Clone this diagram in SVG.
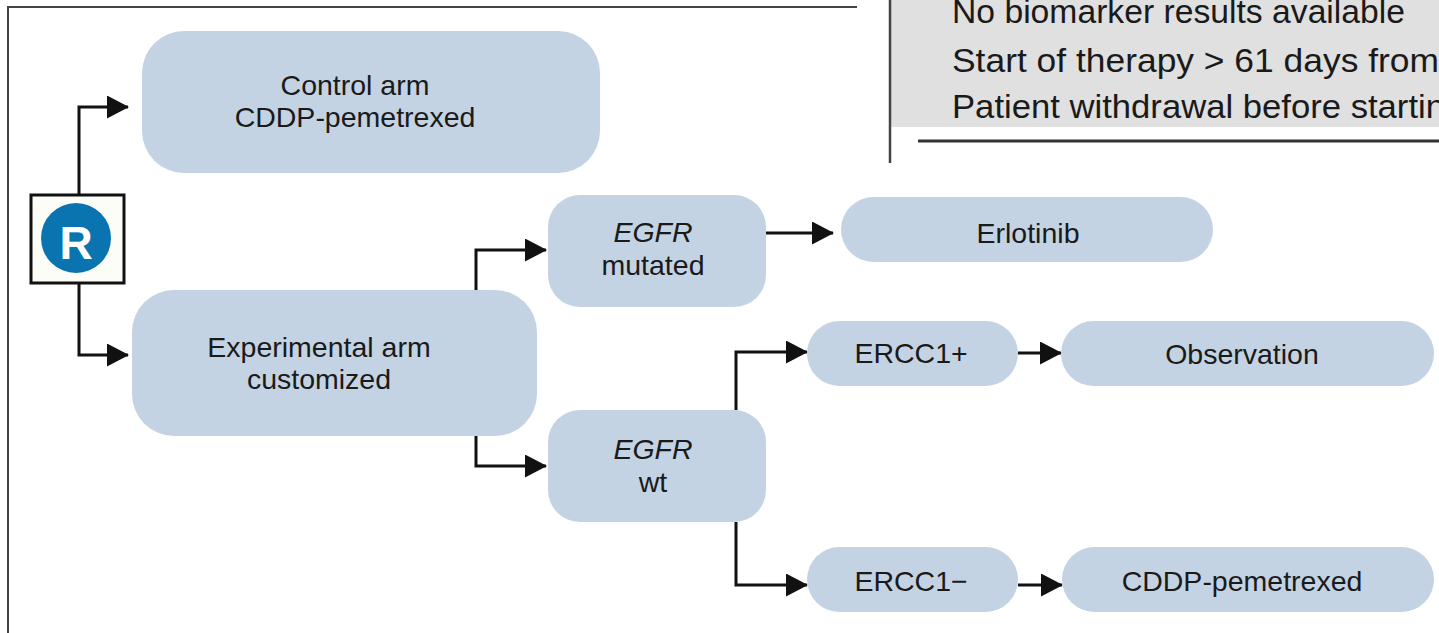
<svg xmlns="http://www.w3.org/2000/svg" width="1439" height="633" viewBox="0 0 1439 633">
<style>
.box{fill:#c4d3e3}
.t{font-family:"Liberation Sans",Arial,sans-serif;font-size:28.5px;fill:#1a1a1a;text-anchor:middle}
.i{font-style:italic}
.c{fill:none;stroke:#111;stroke-width:3}
.frame{fill:none;stroke:#444;stroke-width:2}
.tbl{font-family:"Liberation Sans",Arial,sans-serif;font-size:33px;fill:#1a1a1a}
</style>
<defs>
<marker id="ah" markerUnits="userSpaceOnUse" markerWidth="23" markerHeight="25" refX="21" refY="11.5" orient="auto">
<path d="M0,0 L22,11.5 L0,23 Z" fill="#111"/>
</marker>
</defs>
<rect width="1439" height="633" fill="#fff"/>
<g id="background-page">
<polyline class="frame" points="857,7 8,7 8,633"/>
<rect x="890" y="0" width="549" height="127" fill="#e0e0e0"/>
<line x1="890" y1="0" x2="890" y2="163" stroke="#444" stroke-width="2.5"/>
<line x1="918" y1="141" x2="1439" y2="141" stroke="#333" stroke-width="3"/>
<text class="tbl" x="952" y="23" textLength="453" lengthAdjust="spacingAndGlyphs">No biomarker results available</text>
<text class="tbl" x="952" y="72" textLength="487" lengthAdjust="spacingAndGlyphs">Start of therapy &gt; 61 days from</text>
<text class="tbl" x="952" y="118" textLength="493" lengthAdjust="spacingAndGlyphs">Patient withdrawal before startin</text>
</g>
<g id="connectors">
<polyline class="c" points="79,195 79,107 128,107" marker-end="url(#ah)"/>
<polyline class="c" points="79,283 79,355 128,355" marker-end="url(#ah)"/>
<polyline class="c" points="476,290 476,250 546,250" marker-end="url(#ah)"/>
<polyline class="c" points="476,436 476,466 546,466" marker-end="url(#ah)"/>
<line class="c" x1="766" y1="233" x2="833" y2="233" marker-end="url(#ah)"/>
<polyline class="c" points="736,410 736,352 807,352" marker-end="url(#ah)"/>
<polyline class="c" points="736,522 736,585 807,585" marker-end="url(#ah)"/>
<line class="c" x1="1018" y1="353" x2="1061" y2="353" marker-end="url(#ah)"/>
<line class="c" x1="1018" y1="585" x2="1062" y2="585" marker-end="url(#ah)"/>
</g>
<g id="node-R">
<rect x="31" y="195" width="93" height="88" fill="#fdfdf8" stroke="#111" stroke-width="3"/>
<circle cx="76" cy="238" r="35" fill="#0a74b0"/>
<text x="76" y="259" font-family="Liberation Sans,Arial,sans-serif" font-weight="bold" font-size="46" fill="#fff" text-anchor="middle">R</text>
</g>
<g id="node-control">
<rect class="box" x="142" y="31" width="458" height="142" rx="42"/>
<text class="t" x="355" y="95">Control arm</text>
<text class="t" x="355" y="127">CDDP-pemetrexed</text>
</g>
<g id="node-experimental">
<rect class="box" x="132" y="290" width="405" height="146" rx="42"/>
<text class="t" x="319" y="357">Experimental arm</text>
<text class="t" x="319" y="389">customized</text>
</g>
<g id="node-egfr-mutated">
<rect class="box" x="548" y="195" width="218" height="112" rx="32"/>
<text class="t i" x="653" y="242">EGFR</text>
<text class="t" x="653" y="275">mutated</text>
</g>
<g id="node-egfr-wt">
<rect class="box" x="548" y="410" width="218" height="112" rx="32"/>
<text class="t i" x="653" y="459">EGFR</text>
<text class="t" x="653" y="492">wt</text>
</g>
<g id="node-erlotinib">
<rect class="box" x="841" y="197" width="372" height="65" rx="32.5"/>
<text class="t" x="1028" y="243">Erlotinib</text>
</g>
<g id="node-ercc1-pos">
<rect class="box" x="807" y="321" width="211" height="65" rx="32.5"/>
<text class="t" x="911" y="363">ERCC1+</text>
</g>
<g id="node-ercc1-neg">
<rect class="box" x="807" y="547" width="211" height="65" rx="32.5"/>
<text class="t" x="911" y="591">ERCC1−</text>
</g>
<g id="node-observation">
<rect class="box" x="1061" y="321" width="373" height="65" rx="32.5"/>
<text class="t" x="1242" y="364">Observation</text>
</g>
<g id="node-cddp">
<rect class="box" x="1062" y="547" width="372" height="65" rx="32.5"/>
<text class="t" x="1242" y="591">CDDP-pemetrexed</text>
</g>
</svg>
